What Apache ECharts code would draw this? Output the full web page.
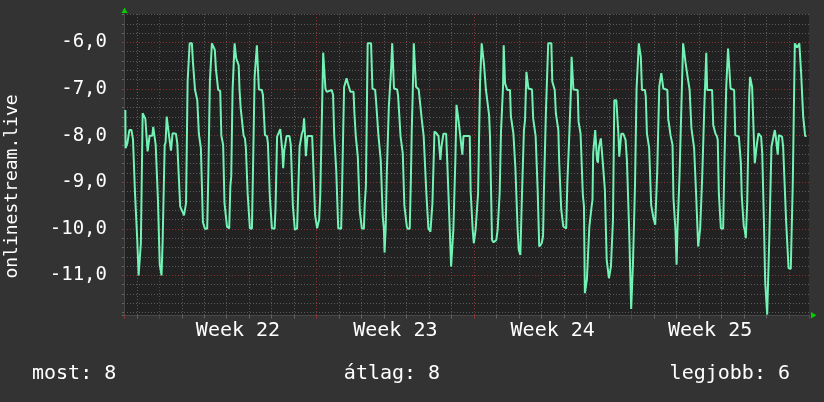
<!DOCTYPE html>
<html>
<head>
<meta charset="utf-8">
<script src="https://cdn.jsdelivr.net/npm/echarts@6/dist/echarts.min.js"></script>
<style>
html,body{margin:0;padding:0;background:#333333;}
#c{width:824px;height:402px;}
</style>
</head>
<body>
<div id="c"></div>
<script>
// time in days since the start of Week 22 (Monday 00:00)
const times = [
-1.51,-1.50,-1.42,-1.33,-1.24,-1.17,-1.11,-1.08,-1.02,-0.98,-0.95,-0.92,-0.84,-0.82,-0.77,-0.74,-0.68,-0.62,-0.56,-0.52,-0.47,-0.43,-0.31,-0.27,-0.21,-0.16,-0.12,-0.06,-0.02,
0.02,0.06,0.10,0.15,0.21,0.24,0.28,0.33,0.37,0.42,0.47,0.52,0.56,0.59,0.74,0.80,0.83,0.89,0.93,0.99,1.05,1.10,1.14,1.19,1.23,1.26,1.30,1.35,1.45,1.50,1.54,1.59,1.64,1.69,1.73,1.76,1.81,1.85,1.90,1.94,1.99,
2.03,2.13,2.18,2.22,2.25,2.30,2.34,2.42,2.47,2.52,2.58,2.62,2.71,2.76,2.80,2.84,2.87,2.90,2.96,3.01,3.11,3.16,3.20,3.26,3.30,3.35,3.39,3.42,3.48,3.53,3.57,3.62,3.67,3.75,3.81,3.85,3.90,3.93,3.99,
4.03,4.12,4.16,4.24,4.30,4.34,4.39,4.43,4.56,4.61,4.65,4.70,4.79,4.83,4.87,4.92,4.96,5.01,5.13,5.17,5.22,5.24,5.32,5.38,5.44,5.47,5.51,5.56,5.60,5.66,5.79,5.85,5.90,5.94,5.99,
6.03,6.07,6.13,6.19,6.24,6.30,6.34,6.40,6.44,6.47,6.52,6.56,6.59,6.80,6.84,6.90,6.93,6.98,7.02,7.07,7.11,7.16,7.22,7.26,7.29,7.35,7.39,7.45,7.50,7.67,7.73,7.78,7.82,7.87,7.91,7.96,
8.09,8.13,8.18,8.22,8.28,8.33,8.36,8.39,8.46,8.50,8.64,8.68,8.74,8.79,8.83,8.89,8.92,8.96,9.01,9.10,9.14,9.19,9.23,9.27,9.42,9.48,9.60,9.64,9.70,9.75,9.81,9.85,9.90,9.94,9.99,
10.02,10.04,10.07,10.12,10.16,10.21,10.27,10.31,10.36,10.42,10.44,10.58,10.62,10.67,10.73,10.79,10.83,10.87,10.90,10.96,11.01,11.05,11.14,11.19,11.23,11.27,11.32,11.38,11.42,11.48,11.54,11.62,11.67,11.72,11.76,11.82,11.88,11.93,11.97,
12.06,12.10,12.15,12.19,12.24,12.33,12.42,12.46,12.50,12.55,12.59,12.64,12.76,12.80,12.86,12.90,12.95,12.98,13.04,13.08,13.13,13.17,13.22,13.26,13.30,13.35,13.39,13.44,13.48,13.53,13.81,13.85,13.90,13.94,13.99,
14.03,14.07,14.12,14.18,14.22,14.27,14.31,14.34,14.40,14.44,14.49,14.53,14.61,14.67,14.71,14.76,14.80,14.87,14.93,14.99,15.05,15.10,15.14,15.20,15.24,15.29,15.32,15.38,15.44,15.48,15.60,15.64,15.70,15.75,15.79,15.84,15.90,15.94,15.99,
16.06,16.10,16.13,16.18,16.22,16.27,16.33,16.37,16.42,16.58,16.63,16.70,16.74,16.79,16.83,16.87,16.90,16.96,17.01,17.07,17.11,17.16,17.20,17.26,17.30,17.44,17.48,17.53,17.59,17.64,17.70,17.75,17.79,17.84,17.88,17.93,17.97,
18.10,18.15,18.19,18.24,18.28,18.31,18.34,18.39,18.42,18.61,18.65,18.70,18.74,18.79,18.84,18.89,18.93,18.99,19.02,19.07,19.13,19.19,19.23,19.27,19.30,19.35,19.39,19.44,19.47,19.51,19.56,19.60,19.64,19.69,19.73,19.78,19.82,19.87,19.90,19.96,
20.00,20.04,20.09,20.13,20.18,20.21,20.24,20.27,20.33,20.37,20.42,20.46,20.50,20.55,20.64,20.68,20.74,20.80,20.84,20.90,20.95,20.99,21.04,21.07,21.11,21.16,21.19,21.23,21.29,21.33,21.38,21.42,21.47,21.60,21.64,21.69,21.75,21.79,21.84,21.88,21.93,21.97,
22.02,22.06,22.12,22.15,22.19,22.24,22.28,22.33,22.37,22.42,22.60,22.64,22.67,22.70,22.74,22.79,22.83,22.87,22.92,22.96,23.01,23.05,23.10,23.14,23.19,23.23,23.27,23.30,23.36,23.41,23.45,23.50,23.54,23.59,23.63,23.67,23.73,23.79,23.84,23.88,23.93,23.97,
24.02,24.06,24.10,24.15,24.19,24.24,24.28,24.33,24.37,24.59,24.64,24.70,24.74,24.80,24.84,24.89,24.93,24.98,25.08,25.13,25.17,25.22,25.26,25.30,25.36,25.41,25.57,25.62,25.70,25.78,25.82,25.87,25.91,25.96,
26.00,26.04,26.09,26.12,26.15,26.19,26.24,26.28,26.33,26.37,26.42,26.46,26.49,26.53,26.56,26.61,26.65,26.71,26.77,26.82,26.86,26.90,26.95,26.99,27.04,27.10,27.14,27.19,27.23,27.27,27.32,27.38,27.42,27.47,27.51,27.56,27.62,27.70,27.75,27.81,27.88,27.94,27.99,
28.09,28.13,28.18,28.22,28.27,28.33,28.37,28.43,28.47,28.52,28.55,28.59,28.64,28.68,28.73,28.79
];
const values = [
-7.45,-8.27,-8.16,-7.88,-7.88,-8.08,-8.11,-9.24,-9.27,-10.24,-10.24,-11.0,-11.0,-10.31,-10.27,-7.52,-7.52,-7.64,-7.66,-8.34,-8.32,-8.0,-8.0,-7.81,-7.82,-8.2,-8.22,-9.38,-9.39,
-10.77,-10.81,-11.0,-10.24,-10.24,-8.2,-8.15,-7.59,-7.61,-7.95,-7.96,-8.32,-8.32,-7.95,-7.96,-8.16,-8.49,-8.5,-9.52,-9.59,-9.65,-9.71,-9.71,-9.45,-9.44,-6.84,-6.81,-6.02,-6.02,-6.45,-6.45,-7.02,-7.04,-7.24,-7.25,-7.96,-7.99,-8.27,-8.29,-9.86,-9.88,
-10.0,-10.0,-8.88,-8.86,-6.84,-6.81,-6.02,-6.04,-6.16,-6.58,-6.58,-7.02,-7.04,-8.0,-8.04,-8.2,-8.22,-9.45,-9.46,-9.95,-9.99,-9.09,-8.88,-7.02,-6.99,-6.02,-6.02,-6.34,-6.38,-6.49,-7.02,-7.41,-7.43,-8.0,-8.06,-8.25,-8.25,-9.24,-9.27,
-9.99,-10.0,-8.95,-6.74,-6.72,-6.06,-6.06,-7.01,-7.02,-7.13,-7.16,-7.99,-8.01,-8.16,-8.18,-9.34,-9.38,-9.99,-10.0,-9.56,-9.54,-8.02,-8.01,-7.86,-7.88,-8.31,-8.7,-8.31,-8.2,-8.01,-8.01,-8.2,-8.22,-9.49,-9.5,
-10.02,-10.06,-9.99,-9.97,-8.24,-8.2,-7.96,-7.88,-7.63,-7.88,-8.44,-8.41,-8.01,-8.01,-8.49,-8.51,-9.7,-9.74,-9.99,-9.88,-9.81,-9.27,-9.24,-6.95,-6.22,-6.22,-6.99,-7.06,-7.02,-7.02,-7.13,-7.99,-8.01,-8.74,-8.75,-9.99,
-10.0,-9.13,-9.11,-6.96,-6.94,-6.77,-6.77,-6.88,-6.88,-7.06,-7.06,-7.52,-8.01,-8.02,-8.45,-8.45,-9.63,-9.66,-9.99,-10.0,-9.45,-9.09,-9.06,-6.02,-6.02,-6.99,-7.02,-7.24,-7.25,-8.01,-8.02,-8.52,-8.56,-9.74,-9.99,
-10.51,-10.51,-9.99,-8.81,-8.79,-7.38,-7.36,-6.59,-6.02,-6.02,-6.99,-7.01,-7.13,-7.52,-8.01,-8.02,-8.38,-8.39,-9.49,-9.52,-9.95,-10.0,-10.0,-8.95,-7.88,-7.16,-6.02,-6.02,-6.95,-6.96,-7.01,-7.02,-7.63,-7.65,-8.01,-8.04,-9.24,-9.25,-9.99,
-10.06,-10.06,-9.45,-9.44,-7.91,-7.95,-8.01,-8.02,-8.52,-8.24,-8.25,-7.96,-7.96,-8.45,-8.49,-9.74,-9.77,-10.81,-10.82,-10.02,-9.99,-8.52,-7.34,-7.34,-7.63,-7.65,-8.02,-8.06,-8.41,-8.01,-8.01,-9.2,-9.24,-10.02,-10.31,
-10.31,-10.02,-9.99,-9.24,-9.2,-6.81,-6.77,-6.02,-6.02,-6.45,-6.45,-7.02,-7.04,-7.56,-8.01,-8.02,-10.24,-10.29,-10.25,-10.24,-10.02,-10.0,-9.24,-7.91,-7.88,-6.95,-6.06,-6.88,-6.91,-7.02,-7.02,-7.59,-7.63,-7.95,-7.99,-8.7,-8.74,-10.02,-10.45,
-10.56,-10.52,-9.31,-9.34,-7.88,-7.66,-6.63,-6.59,-6.99,-7.01,-7.63,-7.65,-8.01,-8.02,-9.16,-9.18,-10.38,-10.41,-10.31,-10.16,-9.16,-9.15,-7.45,-7.44,-6.02,-6.02,-6.84,-6.86,-7.02,-7.52,-7.54,-7.88,-8.59,-8.63,-9.59,-9.63,-9.95,
-9.99,-9.02,-8.99,-7.96,-7.95,-7.02,-6.31,-6.31,-7.01,-7.02,-7.7,-7.74,-7.96,-7.99,-9.27,-9.52,-11.38,-11.38,-11.09,-11.06,-9.95,-9.91,-9.52,-9.38,-8.38,-8.34,-7.88,-7.89,-8.52,-8.58,-8.24,-8.27,-8.06,-8.09,-8.59,-8.63,-9.16,-9.2,-10.66,-10.7,
-11.06,-11.04,-10.81,-10.77,-9.81,-9.77,-7.24,-7.2,-7.24,-7.27,-7.95,-8.45,-8.41,-7.96,-7.96,-7.99,-8.09,-8.52,-8.56,-10.02,-10.06,-11.72,-11.7,-10.74,-10.7,-9.08,-9.06,-6.99,-6.99,-6.02,-6.02,-6.31,-7.02,-7.02,-7.16,-7.95,-7.96,-8.27,-8.31,-9.49,-9.52,-9.74,
-9.77,-9.91,-9.89,-8.74,-8.7,-6.95,-6.91,-6.66,-6.7,-6.99,-7.02,-7.66,-7.74,-7.77,-7.99,-8.02,-8.2,-9.34,-9.38,-10.02,-10.77,-10.02,-9.99,-8.88,-8.84,-7.25,-7.24,-6.02,-6.02,-6.44,-6.45,-6.74,-6.77,-7.02,-7.06,-7.84,-7.86,-8.27,-8.29,-9.27,-9.31,-10.38,
-10.38,-9.99,-9.96,-8.88,-8.84,-7.45,-7.41,-6.22,-7.02,-7.02,-7.77,-7.81,-7.96,-8.01,-8.09,-9.24,-9.27,-9.99,-10.0,-8.74,-8.7,-6.94,-6.91,-6.13,-6.13,-6.99,-7.02,-7.99,-8.01,-8.02,-8.06,-8.59,-9.31,-9.34,
-9.95,-10.02,-10.2,-10.2,-9.45,-9.41,-7.16,-6.74,-6.77,-6.96,-6.99,-8.24,-8.59,-8.61,-8.27,-8.24,-7.95,-7.96,-8.02,-8.38,-8.41,-9.95,-11.13,-11.16,-11.84,-11.84,-10.09,-10.06,-8.24,-8.2,-8.02,-7.88,-8.01,-8.02,-8.41,-7.99,-7.96,-8.02,-8.24,-8.27,-9.81,-9.84,-10.84,
-10.86,-10.02,-8.99,-8.95,-6.02,-6.02,-6.11,-6.11,-6.02,-6.04,-6.66,-6.68,-7.58,-7.61,-8.01,-8.01
];
const weekLabels = ['Week 22', 'Week 23', 'Week 24', 'Week 25'];
const yAxisTitle = 'onlinestream.live';
const legendTexts = ['most: 8', 'átlag: 8', 'legjobb: 6'];

const X_MIN = -1.57, X_MAX = 28.9;
const Y_MIN = -11.86, Y_MAX = -5.39;
const FONT = '"DejaVu Sans Mono", monospace';
const LINE = '#72f2b4';
const MINOR = '#5a5a5a';
const MAJOR = '#8a3232';

const chart = echarts.init(document.getElementById('c'), null, {renderer: 'canvas'});
const data = times.map((t, i) => [t, values[i]]);

const option = {
  animation: false,
  backgroundColor: '#333333',
  grid: {left: 124, top: 14, width: 685, height: 301.5, show: true, backgroundColor: '#222222', borderWidth: 0},
  xAxis: [
    {type: 'value', position: 'bottom', min: X_MIN, max: X_MAX, minInterval: 1, maxInterval: 1,
     axisLine: {show: true, onZero: false, lineStyle: {color: '#484848', width: 1}},
     axisTick: {show: true, length: 3, lineStyle: {color: '#666666'}},
     axisLabel: {show: false},
     splitLine: {show: true, showMinLine: false, showMaxLine: false, lineStyle: {color: MINOR, width: 1, type: [1, 2]}}},
    {type: 'value', position: 'bottom', min: X_MIN, max: X_MAX, minInterval: 7, maxInterval: 7,
     axisLine: {show: false, onZero: false},
     axisTick: {show: true, length: 3, lineStyle: {color: MAJOR}},
     axisLabel: {show: false},
     splitLine: {show: true, showMinLine: false, showMaxLine: false, lineStyle: {color: MAJOR, width: 1, type: [1, 2]}}},
    {type: 'value', position: 'bottom', min: X_MIN - 3.5, max: X_MAX - 3.5, minInterval: 7, maxInterval: 7,
     axisLine: {show: false, onZero: false}, axisTick: {show: false}, splitLine: {show: false},
     axisLabel: {show: true, showMinLabel: false, showMaxLabel: false, margin: 5,
       color: '#ffffff', fontFamily: FONT, fontSize: 20,
       formatter: v => { const k = Math.round(v / 7); return weekLabels[k] || ''; }}}
  ],
  yAxis: [
    {type: 'value', position: 'left', min: Y_MIN, max: Y_MAX, minInterval: 0.2, maxInterval: 0.2,
     axisLine: {show: true, onZero: false, lineStyle: {color: '#484848', width: 1}},
     axisTick: {show: true, length: 2, lineStyle: {color: '#666666'}},
     axisLabel: {show: false},
     splitLine: {show: true, showMinLine: false, showMaxLine: false, lineStyle: {color: MINOR, width: 1, type: [1, 2]}}},
    {type: 'value', position: 'left', min: Y_MIN, max: Y_MAX, minInterval: 1, maxInterval: 1,
     axisLine: {show: false, onZero: false},
     axisTick: {show: true, length: 2, lineStyle: {color: MAJOR}},
     axisLabel: {show: true, showMinLabel: false, showMaxLabel: false, margin: 17,
       color: '#ffffff', fontFamily: FONT, fontSize: 19,
       formatter: v => v.toFixed(1).replace('.', ',')},
     splitLine: {show: true, showMinLine: false, showMaxLine: false, lineStyle: {color: MAJOR, width: 1, type: [1, 2]}}}
  ],
  series: [{
    type: 'line', xAxisIndex: 0, yAxisIndex: 0, data: data,
    showSymbol: false, symbol: 'none', smooth: false,
    lineStyle: {color: LINE, width: 2}, itemStyle: {color: LINE},
    z: 5
  }],
  graphic: [
    {type: 'text', x: 12, y: 186.5, rotation: Math.PI / 2,
     style: {text: yAxisTitle, fill: '#ffffff', fontFamily: FONT, fontSize: 18, align: 'center', verticalAlign: 'middle'}},
    {type: 'text', x: 32, y: 374,
     style: {text: legendTexts[0], fill: '#ffffff', fontFamily: FONT, fontSize: 20, align: 'left', verticalAlign: 'middle'}},
    {type: 'text', x: 392, y: 374,
     style: {text: legendTexts[1], fill: '#ffffff', fontFamily: FONT, fontSize: 20, align: 'center', verticalAlign: 'middle'}},
    {type: 'text', x: 790, y: 374,
     style: {text: legendTexts[2], fill: '#ffffff', fontFamily: FONT, fontSize: 20, align: 'right', verticalAlign: 'middle'}},
    {type: 'polygon', shape: {points: [[121.5, 13], [127.5, 13], [124.5, 7.5]]}, style: {fill: '#00d000'}},
    {type: 'polygon', shape: {points: [[811, 312], [811, 318.5], [816.5, 315.2]]}, style: {fill: '#00d000'}}
  ]
};
chart.setOption(option);
</script>
</body>
</html>
